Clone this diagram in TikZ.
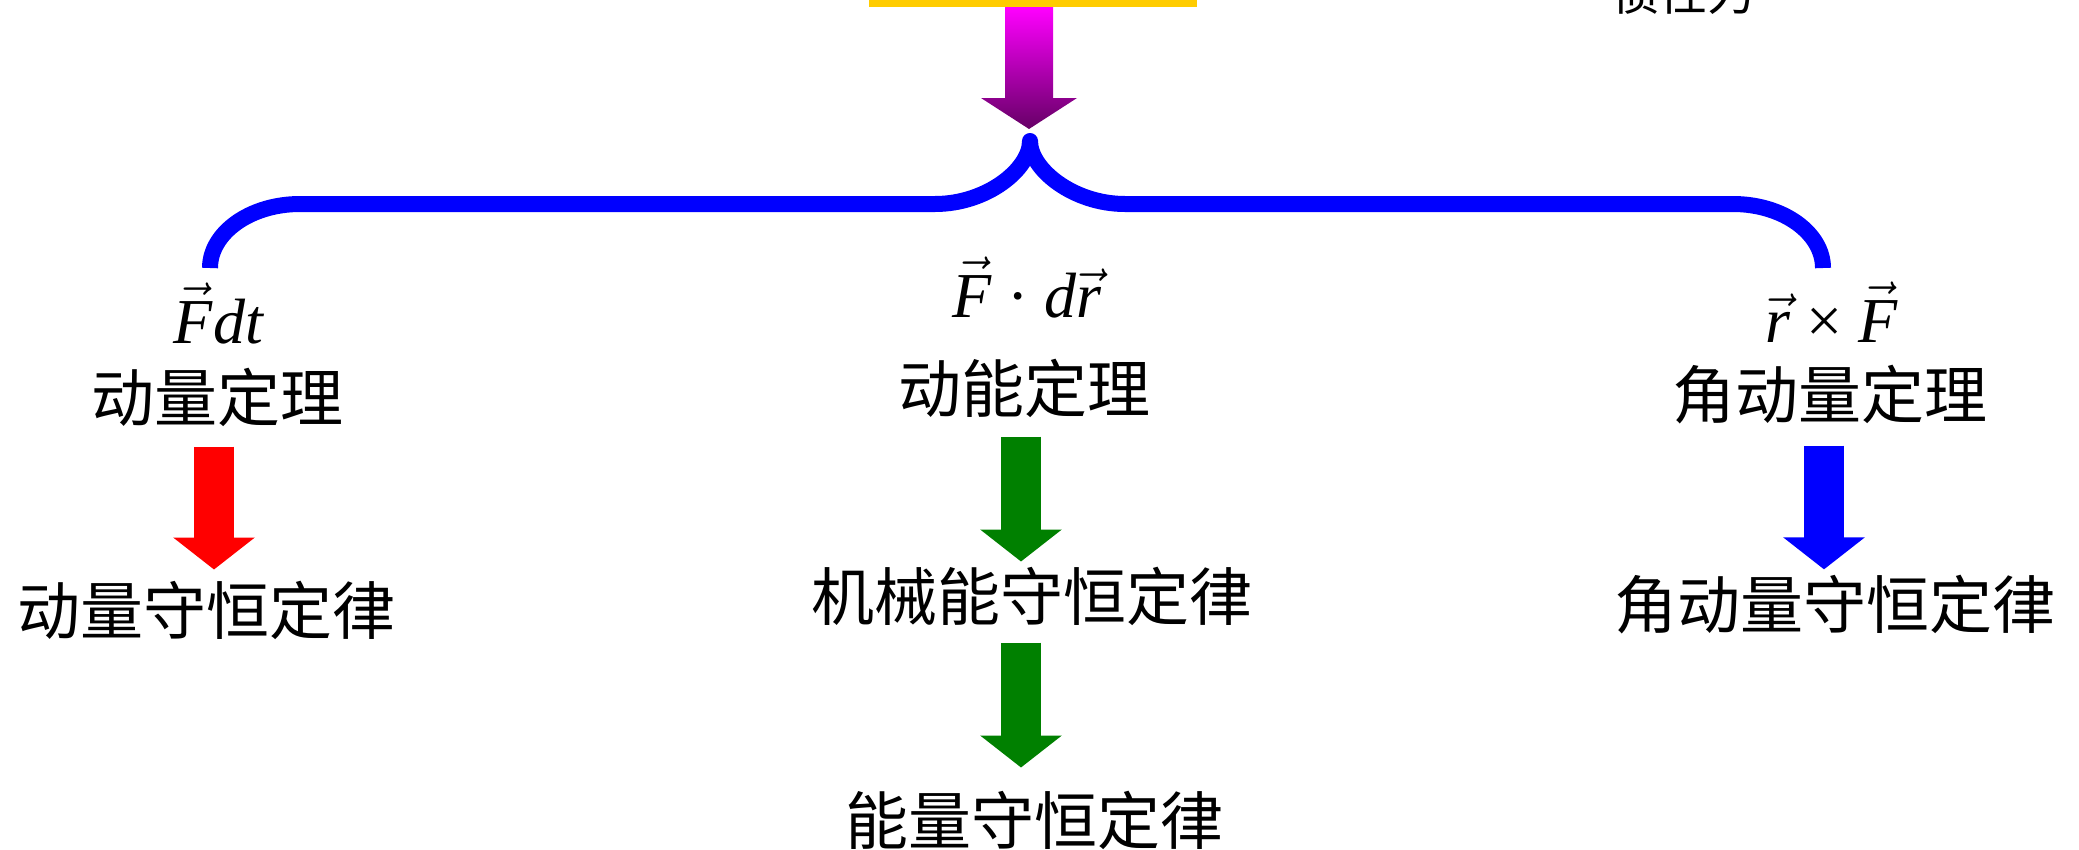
\RequirePackage{fix-cm}
\documentclass[tikz,border=0pt]{standalone}
\usepackage{fontspec}
\setmainfont{Liberation Serif}
\newfontfamily\cjk{Noto Sans CJK SC}
\usetikzlibrary{arrows.meta,calc}
\definecolor{barY}{HTML}{FFCC00}
\definecolor{arrG}{HTML}{008000}
\definecolor{magA}{HTML}{FF00FF}
\definecolor{magB}{HTML}{660066}
\newcommand\vF{\ensuremath{\vec{\mbox{\itshape F}}}}
\newcommand\vR{\ensuremath{\vec{\mbox{\itshape r}}}}
\begin{document}
\begin{tikzpicture}[x=1pt,y=-1pt,
  cn/.style={font=\cjk\fontsize{63}{63}\selectfont, inner sep=0pt},
  mf/.style={font=\fontsize{64}{64}\selectfont, inner sep=0pt, anchor=base},
  fat/.style={line width=40pt, -{Triangle[length=32pt,width=80pt]}},
  brace/.style={draw=blue, line width=16pt, line join=round, line cap=butt}]
\useasboundingbox (0,0) rectangle (2079,849);

% top bar and partial label
\node[fill=barY, minimum width=328pt, minimum height=20pt, inner sep=0pt, anchor=south] (bar) at (1033,7) {};
\node[cn, font=\cjk\fontsize{48}{48}\selectfont] (inertia) at (1683,-8) {惯性力};

% magenta gradient arrow
\coordinate (mtop) at (1029,7);
\shade[top color=magA, bottom color=magB]
  ($(mtop)+(-24,0)$) -- ($(mtop)+(24,0)$) -- ($(mtop)+(24,91)$) -- ($(mtop)+(48,91)$)
  -- ($(mtop)+(0,122)$) -- ($(mtop)+(-48,91)$) -- ($(mtop)+(-24,91)$) -- cycle;

% brace
\draw[brace] (210,268) .. controls (210,233) and (250,204) .. (300,204) -- (935,204)
  .. controls (987,204) and (1030,169) .. (1030,141)
  .. controls (1030,169) and (1073,204) .. (1125,204) -- (1733,204)
  .. controls (1783,204) and (1823,233) .. (1823,268);

% formulas
\node[mf] (p1) at (219,343) {\vF\textit{dt}};
\node[mf] (p2) at (1027,317) {\vF{} · \textit{d}\vR};
\node[mf] (p3) at (1832,342) {\vR{} × \vF};

% theorems
\node[cn] (t1) at (217,397) {动量定理};
\node[cn] (t2) at (1024,388) {动能定理};
\node[cn] (t3) at (1830,395) {角动量定理};
\node[cn] (c1) at (206,610) {动量守恒定律};
\node[cn] (c2) at (1032,596) {机械能守恒定律};
\node[cn] (c3) at (1034,820) {能量守恒定律};
\node[cn] (c4) at (1835,605) {角动量守恒定律};

% arrows
\draw[fat, red, shorten <=20pt, shorten >=11pt] ([xshift=-3pt]t1.south) -- ([xshift=-3pt]t1.south |- c1.north);
\draw[fat, arrG, shorten <=19pt, shorten >=5pt] ([xshift=-3pt]t2.south) -- ([xshift=-3pt]t2.south |- c2.north);
\draw[fat, arrG, shorten <=17pt, shorten >=23pt] ([xshift=-3pt]t2.south |- c2.south) -- ([xshift=-3pt]t2.south |- c3.north);
\draw[fat, blue, shorten <=21pt, shorten >=6pt] ([xshift=-6pt]t3.south) -- ([xshift=-6pt]t3.south |- c4.north);
\end{tikzpicture}
\end{document}
